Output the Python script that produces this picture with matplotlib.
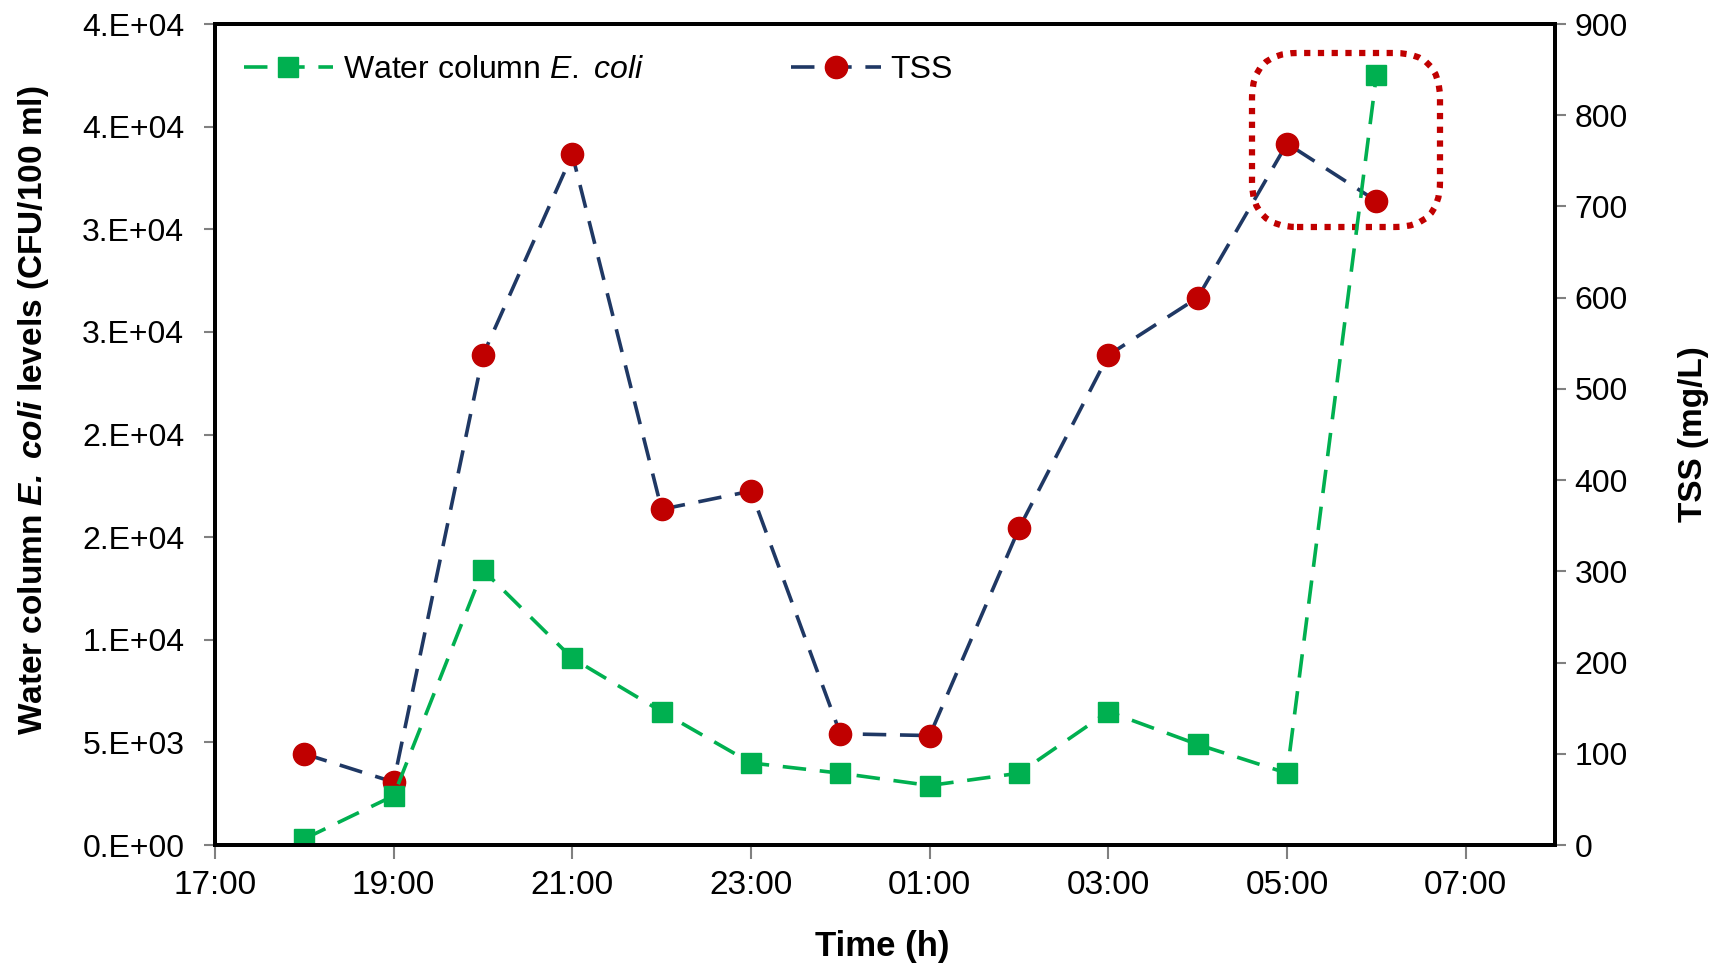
import matplotlib
matplotlib.use("Agg")
import matplotlib.pyplot as plt
import matplotlib.dates as mdates
from matplotlib.patches import FancyBboxPatch
import pandas as pd

plt.rcParams['font.family'] = ['Liberation Sans', 'DejaVu Sans']
plt.rcParams['mathtext.fontset'] = 'custom'
plt.rcParams['mathtext.rm'] = 'Liberation Sans'
plt.rcParams['mathtext.it'] = 'Liberation Sans:italic'
plt.rcParams['mathtext.bf'] = 'Liberation Sans:bold'
plt.rcParams['mathtext.bfit'] = 'Liberation Sans:italic:bold'

# ---- data ----
times = ["18:00", "19:00", "20:00", "21:00", "22:00", "23:00", "00:00",
         "01:00", "02:00", "03:00", "04:00", "05:00", "06:00"]
ecoli = [300, 2400, 13400, 9100, 6500, 4000, 3500, 2900, 3500, 6500, 4900, 3500, 37500]
tss = [100, 69, 537, 757, 368, 388, 122, 120, 347, 537, 600, 769, 706]
ecoli_ticks = [0, 5000, 10000, 15000, 20000, 25000, 30000, 35000, 40000]
ecoli_ticklabels = ["0.E+00", "5.E+03", "1.E+04", "2.E+04", "2.E+04",
                    "3.E+04", "3.E+04", "4.E+04", "4.E+04"]
tss_ticks = [0, 100, 200, 300, 400, 500, 600, 700, 800, 900]

GREEN = "#00B050"
NAVY = "#1F3864"
RED = "#C00000"


def to_dt(t):
    h, m = int(t[:2]), int(t[3:])
    return pd.Timestamp(2000, 1, 1 if h >= 12 else 2, h, m)


x = [to_dt(t) for t in times]

fig = plt.figure(figsize=(17.29, 9.64), dpi=100)
ax = fig.add_axes([0.1243, 0.1234, 0.7751, 0.8517])
ax2 = ax.twinx()
ax.set_zorder(ax2.get_zorder() + 1)
ax.patch.set_visible(False)

l2, = ax2.plot(x, tss, ls=(0, (6.5, 3.8)), lw=2.6, color=NAVY, marker="o", ms=16,
               mfc=RED, mec=RED, label="TSS")
l1, = ax.plot(x, ecoli, ls=(0, (6.5, 3.8)), lw=2.6, color=GREEN, marker="s", ms=15,
              mfc=GREEN, mec=GREEN, label=r"Water column $\mathit{E.\ coli}$")

ax.set_ylim(0, 40000)
ax.set_yticks(ecoli_ticks)
ax.set_yticklabels(ecoli_ticklabels)
ax2.set_ylim(0, 900)
ax2.set_yticks(tss_ticks)

ax.set_xlim(pd.Timestamp(2000, 1, 1, 17), pd.Timestamp(2000, 1, 2, 8))
ax.xaxis.set_major_locator(mdates.HourLocator(byhour=range(1, 24, 2)))
ax.xaxis.set_major_formatter(mdates.DateFormatter("%H:%M"))

for a in (ax, ax2):
    for s in a.spines.values():
        s.set_linewidth(2.8)
        s.set_color("black")
    a.tick_params(axis="both", direction="out", length=8, width=1.5,
                  color="#808080", labelsize=23, pad=6)
ax.tick_params(axis="y", pad=14)
ax.tick_params(axis="x", length=10, pad=8, labelsize=24)

ax.set_ylabel(r"Water column $\mathbfit{E.\ coli}$ levels (CFU/100 ml)",
              fontsize=24, fontweight="bold")
ax.yaxis.set_label_coords(-0.122, 0.53)
ax2.set_ylabel("TSS (mg/L)", fontsize=24, fontweight="bold")
ax2.yaxis.set_label_coords(1.092, 0.5)
ax.set_xlabel("Time (h)", fontsize=25, fontweight="bold")
ax.xaxis.set_label_coords(0.498, -0.104)

ax.legend(handles=[l1, l2], loc="upper left", bbox_to_anchor=(0.012, 0.978),
          ncol=2, frameon=False, fontsize=23, handlelength=2.8,
          handletextpad=0.3, columnspacing=4.6, numpoints=1, borderaxespad=0)

# dotted highlight around the last two TSS points
ax.add_patch(FancyBboxPatch((12.52, 7.37), 1.88, 1.74,
                            boxstyle="round,pad=0,rounding_size=0.45",
                            transform=fig.dpi_scale_trans, fill=False,
                            ec=RED, lw=4.5, ls=(0, (1, 1.2)), clip_on=False))

fig.savefig("out.png", dpi=100)
